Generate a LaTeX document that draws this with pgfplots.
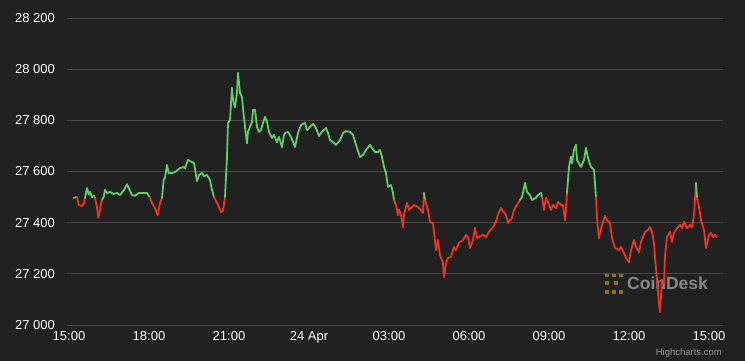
\documentclass[border=0pt]{standalone}
\usepackage{pgfplots}
\pgfplotsset{compat=1.18}
\usepackage{pgfplotstable}
\usepackage{fontspec}
\setmainfont{Liberation Sans}
\definecolor{bg}{RGB}{33,33,33}
\definecolor{gridc}{RGB}{72,72,72}
\definecolor{cgreen}{RGB}{95,208,104}
\definecolor{cred}{RGB}{240,52,32}
\definecolor{gold}{RGB}{140,110,45}
\definecolor{wm}{RGB}{135,135,135}
\pgfplotstableread{
px price
73.7 27497
77 27500
78.7 27470
82 27465
84 27477
85 27497
87 27535
88.7 27510
90 27520
92 27500
93.7 27505
95 27497
97 27460
98.3 27420
100 27450
102 27490
103.7 27500
105 27528
107 27516
110 27520
113.7 27512
117 27516
120 27508
124 27528
127 27550
128.7 27535
132 27508
135 27505
138.7 27516
142 27516
147 27516
149.7 27500
152 27477
155 27457
157.7 27430
160 27477
162 27497
163.7 27567
165 27575
167 27625
168.7 27594
172 27594
175 27598
180 27613
183 27617
185 27613
188 27645
192 27637
194 27633
197 27563
199 27586
202 27594
204 27582
207 27586
210 27567
212 27528
214 27500
217 27477
219 27461
221 27442
223 27446
225 27500
227 27657
228 27790
230 27801
232 27926
233 27880
235 27852
237 27907
238 27985
240 27907
242 27892
243 27848
245 27774
247 27711
248 27755
252 27794
253 27841
255 27841
257 27774
259 27755
261 27762
263 27790
265 27813
267 27794
269 27755
272 27731
274 27743
277 27715
279 27735
282 27696
284 27743
285 27750
288 27755
291 27735
295 27696
298 27750
301 27782
305 27790
307 27762
310 27774
313 27786
316 27770
319 27739
322 27755
326 27770
328 27750
330 27723
333 27715
336 27704
340 27723
343 27750
346 27758
350 27755
353 27743
356 27704
360 27657
363 27665
366 27684
370 27704
372 27692
375 27676
378 27676
380 27684
382 27657
384 27618
386 27594
388 27540
391 27547
393 27516
394 27489
396 27469
398 27430
399 27450
401 27430
403 27383
404 27430
407 27477
409 27450
412 27461
414 27469
418 27461
420 27453
423 27438
424 27516
425 27489
428 27450
430 27403
433 27399
434 27364
436 27293
438 27332
440 27274
443 27242
444 27188
446 27242
448 27262
451 27266
454 27305
456 27293
459 27321
463 27332
466 27352
468 27344
470 27301
473 27332
475 27379
477 27340
479 27344
483 27352
486 27344
489 27364
493 27383
496 27403
498 27430
501 27457
506 27430
508 27399
512 27418
514 27450
517 27469
520 27489
522 27500
525 27555
527 27520
530 27508
532 27489
536 27497
538 27508
541 27516
542 27500
544 27450
546 27497
548 27481
551 27450
553 27469
556 27457
558 27481
561 27469
563 27469
565 27410
566 27450
567 27516
569 27618
571 27657
572 27633
574 27684
576 27704
577 27645
581 27618
584 27645
586 27692
588 27653
591 27618
594 27606
596 27500
597 27418
599 27340
602 27391
605 27426
607 27410
610 27399
612 27340
615 27301
619 27293
621 27305
624 27281
626 27262
629 27246
631 27293
634 27332
636 27305
639 27285
641 27325
643 27344
645 27364
648 27371
650 27383
652 27364
654 27321
655 27266
657 27176
659 27086
660 27051
662 27176
664 27164
665 27266
667 27344
670 27364
672 27325
674 27360
677 27379
680 27391
682 27379
684 27403
687 27379
690 27391
692 27383
694 27430
696 27555
697 27497
699 27461
701 27410
704 27371
706 27301
709 27352
711 27360
713 27344
715 27352
717 27344
}\pricedata
\begin{document}
\begin{tikzpicture}[x=1pt,y=1pt]
\fill[bg] (0,0) rectangle (745,361);
\useasboundingbox (0,0) rectangle (745,361);
% watermark
\foreach \a/\b in {605/84,612/84,619/84,605/76,605/67,612/67,619/67,614/76}
  \fill[gold] (\a,\b) rectangle ++(4,4);
\node[anchor=west,text=wm,font=\fontsize{17.5}{20}\selectfont\bfseries,inner sep=0] at (627,78) {CoinDesk};
\node[anchor=east,text=wm!90!white,font=\fontsize{9.5}{11}\selectfont,inner sep=0] at (722,8) {Highcharts.com};
\begin{axis}[
  at={(67pt,36pt)}, anchor=south west,
  scale only axis, width=656pt, height=307pt,
  xmin=-0.075, xmax=24.525,
  ymin=27000, ymax=28200,
  scaled y ticks=false,
  axis line style={draw=none},
  axis x line*=bottom,
  ytick={27000,27200,...,28200},
  yticklabels={27 000,27 200,27 400,27 600,27 800,28 000,28 200},
  xtick={0,3,...,24},
  xticklabels={15:00,18:00,21:00,24 Apr,03:00,06:00,09:00,12:00,15:00},
  ymajorgrids, grid style={gridc, line width=0.8pt},
  major tick length=0pt,
  tick label style={text=white, font=\fontsize{13}{15}\selectfont},
  yticklabel style={anchor=east, xshift=-12pt, inner sep=0pt},
  xticklabel style={yshift=-3pt},
  clip=false,
  colormap={rg}{color=(cred) color=(cgreen)},
  colormap access=piecewise constant,
  point meta min=26994, point meta max=28000,
]
\addplot[mesh, point meta=y, line width=1.8pt, line join=round, line cap=round]
  table[x expr=(\thisrow{px}-69)/26.667, y=price] {\pricedata};
\end{axis}
\end{tikzpicture}
\end{document}
